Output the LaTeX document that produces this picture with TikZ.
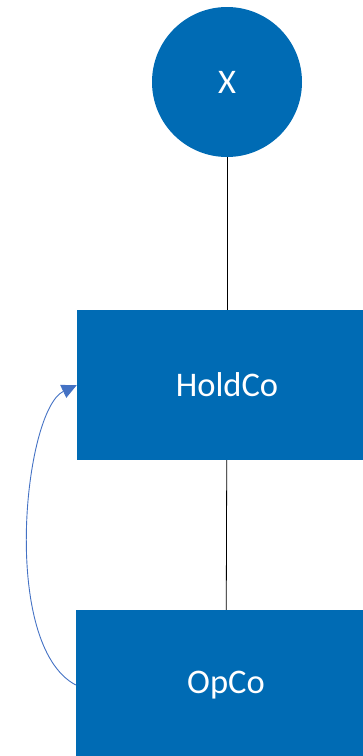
\documentclass[tikz,border=0pt]{standalone}
\usepackage{fontspec}
\setmainfont{Carlito}
\usetikzlibrary{arrows.meta}
\definecolor{boxblue}{HTML}{006BB4}
\definecolor{linkblue}{HTML}{4472C4}

\begin{document}
\begin{tikzpicture}
  [x=1pt,y=-1pt,every node/.style={color=white,fill=boxblue,inner sep=0pt,font=\fontsize{34.5}{40}\selectfont},
   entity/.style={rectangle,minimum width=300pt,minimum height=150pt}]
  \useasboundingbox (0,0) rectangle (362,756);
  \node[circle,minimum size=150pt] (x) at (227,82) {X};
  \node[entity] (holdco) at (227,385) {HoldCo};
  \node[entity] (opco) at (226,685) {OpCo};

  \draw[black,line width=0.8pt] (x) -- (holdco);
  \draw[black,line width=0.8pt] (holdco) -- (opco);
  \draw[linkblue,line width=0.9pt,-{Triangle[length=15pt,width=14pt]}] (opco.west) .. controls (0,645) and (24,410) .. (holdco.west);

\end{tikzpicture}
\end{document}
